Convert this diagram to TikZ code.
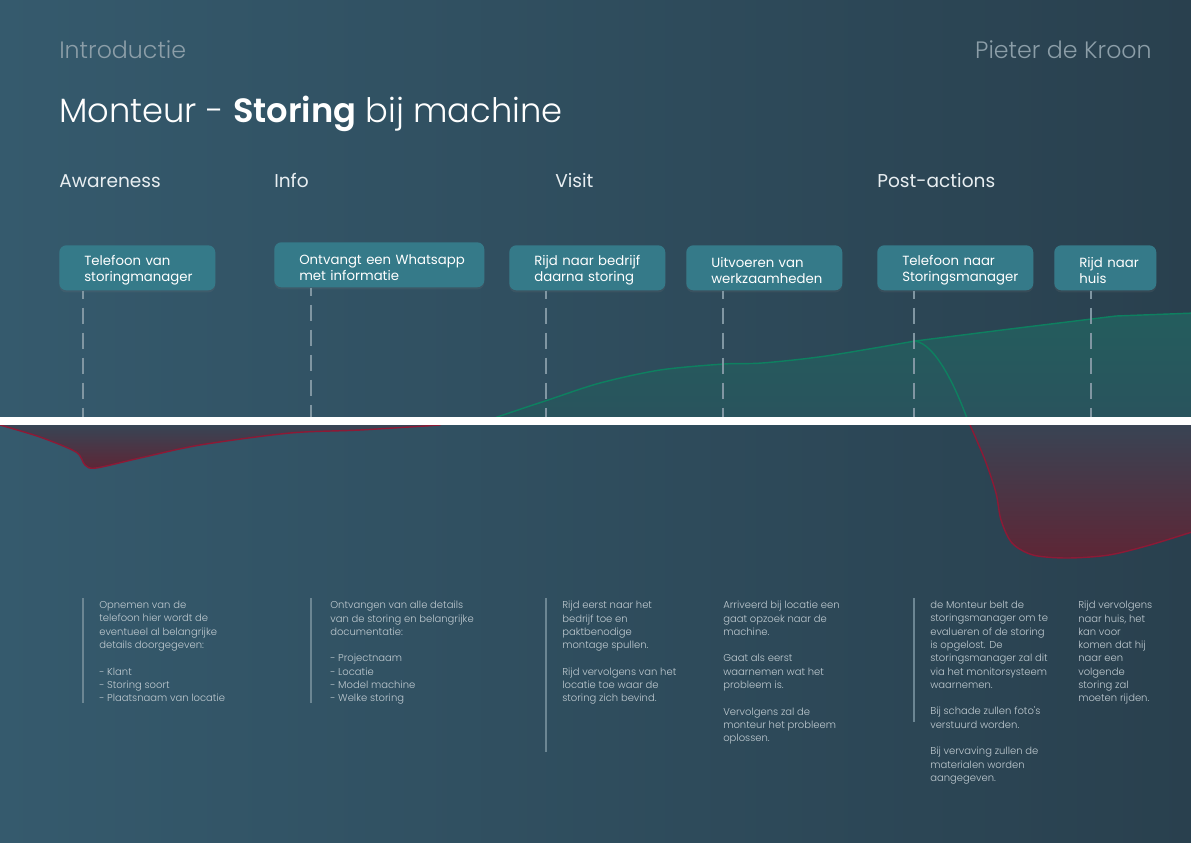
\documentclass[tikz,border=0pt]{standalone}
\usepackage{fontspec}
\setmainfont{Poppins}
\newfontfamily\lightfont{Poppins Light}[BoldFont=Poppins SemiBold]
\usetikzlibrary{positioning,shadows}

\definecolor{bgleft}{RGB}{53,90,109}
\definecolor{bgright}{RGB}{41,64,78}
\definecolor{bgmid}{RGB}{46,76,92}
\definecolor{boxteal}{RGB}{53,122,137}
\definecolor{headgrey}{RGB}{140,158,168}
\definecolor{phasewhite}{RGB}{232,238,241}
\definecolor{dashgrey}{RGB}{128,150,162}
\definecolor{notegrey}{RGB}{192,203,209}
\definecolor{notelinegrey}{RGB}{108,134,147}
\definecolor{goodgreen}{RGB}{14,128,96}
\definecolor{badred}{RGB}{140,26,54}
\definecolor{badfill}{RGB}{94,38,54}

\begin{document}
\begin{tikzpicture}[x=0.7pt, y=-0.7pt,
    stepbox/.style={fill=boxteal, rounded corners=5pt, text=white, anchor=north west,
        align=left, inner xsep=17.5pt, inner ysep=0pt, minimum height=31.5pt,
        font=\fontsize{9.3}{11.2}\selectfont, execute at begin node={\rule{0pt}{11pt}},
        drop shadow={opacity=0.15, shadow xshift=0pt, shadow yshift=-1.5pt}},
    phase/.style={anchor=base west, text=phasewhite, font=\fontsize{13}{15}\selectfont},
    note/.style={anchor=north west, inner sep=0pt, align=left, text=notegrey,
        font=\lightfont\fontsize{7}{9.3}\selectfont},
    dashline/.style={dashgrey, line width=1.3pt, dash pattern=on 11.2pt off 6.3pt, dash phase=5.6pt},
    noteline/.style={notelinegrey, line width=1.4pt}]

    % 背景
    \useasboundingbox (0,0) rectangle (1191,842);
    \shade[left color=bgleft, right color=bgright] (0,0) rectangle (1191,842);
    \coordinate (band) at (0,417);

    % 标题
    \node[anchor=base west, inner sep=0pt, text=headgrey, font=\lightfont\fontsize{16.6}{19}\selectfont]
        (intro) at (59,58) {Introductie};
    \node[anchor=base east, inner sep=0pt, text=headgrey, font=\lightfont\fontsize{16.6}{19}\selectfont]
        (author) at (1152,58) {Pieter de Kroon};
    \node[anchor=base west, inner sep=0pt, text=white, font=\lightfont\fontsize{23.6}{28}\selectfont]
        (title) at (59,122) {Monteur - \textbf{Storing} bij machine};

    % 阶段
    \node[phase, inner sep=0pt] (awareness) at (59,187) {Awareness};
    \node[phase, inner sep=0pt] (info) at (274,187) {Info};
    \node[phase, inner sep=0pt] (visit) at (555,187) {Visit};
    \node[phase, inner sep=0pt] (post) at (877,187) {Post-actions};

    % 曲线：正面
    \shadedraw[draw=goodgreen, line width=1pt, top color=goodgreen!32!bgmid, bottom color=goodgreen!14!bgmid]
        (490,421) -- plot[smooth] coordinates {(497,417) (548,400) (600,383) (660,370) (724,364)
        (762,363) (826,356) (915,341)} -- (1010,329) -- (1116,316) -- (1195,313) -- (1195,421) -- cycle;
    \draw[goodgreen, line width=1pt] (915,341) .. controls (935,344) and (955,385) .. (968,421);

    % 曲线：负面
    \shadedraw[draw=badred, line width=1pt, top color=badfill!12!bgmid, bottom color=badfill]
        (-5,421) -- plot[smooth] coordinates {(0,425) (40,437) (76,452) (85,465) (96,468)
        (140,458) (200,445) (290,433) (360,430) (440,425)} -- (445,421) -- cycle;
    \shadedraw[draw=badred, line width=1pt, top color=badfill!20!bgmid, bottom color=badfill]
        (968,421) -- plot[smooth] coordinates {(970,425) (985,460) (996,493) (1001,520) (1012,543)
        (1033,555) (1067,558) (1109,555) (1150,545) (1195,531)} -- (1195,421) -- cycle;

    % 分界线
    \fill[white] (0,417) rectangle (1191,425);

    % 步骤
    \node[stepbox, text width=74.2pt] (b1) at (59,245) {\mbox{Telefoon van}\\\mbox{storingmanager}};
    \node[stepbox, text width=112pt] (b2) at (274,242) {\mbox{Ontvangt een Whatsapp}\\\mbox{met informatie}};
    \node[stepbox, text width=74.2pt] (b3) at (509,245) {\mbox{Rijd naar bedrijf}\\\mbox{daarna storing}};
    \node[stepbox, text width=74.2pt] (b4) at (686,245) {\mbox{Uitvoeren van}\\\mbox{werkzaamheden}};
    \node[stepbox, text width=74.2pt] (b5) at (877,245) {\mbox{Telefoon naar}\\\mbox{Storingsmanager}};
    \node[stepbox, text width=36.4pt] (b6) at (1054,245) {\mbox{Rijd naar}\\\mbox{huis}};

    \foreach \b/\dx in {b1/16.8pt, b2/25.9pt, b3/25.9pt, b4/25.9pt, b5/25.9pt, b6/25.9pt}
        \draw[dashline] ([xshift=\dx]\b.south west) -- ([xshift=\dx]\b.south west |- band);

    % 说明
    \node[note] (n1) at (99,601) {Opnemen van de\\telefoon hier wordt de\\eventueel al belangrijke\\details doorgegeven:\\[9.3pt]
        - Klant\\- Storing soort\\- Plaatsnaam van locatie};
    \node[note] (n2) at (330,601) {Ontvangen van alle details\\van de storing en belangrijke\\documentatie:\\[9.3pt]
        - Projectnaam\\- Locatie\\- Model machine\\- Welke storing};
    \node[note] (n3) at (562,601) {Rijd eerst  naar het\\bedrijf toe en\\paktbenodige\\montage spullen.\\[9.3pt]
        Rijd vervolgens van het\\locatie toe waar de\\storing zich bevind.};
    \node[note] (n4) at (723,601) {Arriveerd bij locatie een\\gaat opzoek naar de\\machine.\\[9.3pt]
        Gaat als eerst\\waarnemen wat het\\probleem is.\\[9.3pt]
        Vervolgens zal de\\monteur het probleem\\oplossen.};
    \node[note] (n5) at (930,601) {de Monteur belt de\\storingsmanager om te\\evalueren of de storing\\is opgelost. De\\
        storingsmanager zal dit\\via het monitorsysteem\\waarnemen.\\[9.3pt]
        Bij schade zullen foto's\\verstuurd worden.\\[9.3pt]
        Bij vervaving zullen de\\materialen worden\\aangegeven.};
    \node[note] (n6) at (1078,601) {Rijd vervolgens\\naar huis, het\\kan voor\\komen dat hij\\naar een\\volgende\\storing zal\\moeten rijden.};

    \draw[noteline] ([xshift=-11.2pt, yshift=2.1pt]n1.north west) -- ++(0,105);
    \draw[noteline] ([xshift=-13.3pt, yshift=2.1pt]n2.north west) -- ++(0,105);
    \draw[noteline] ([xshift=-11.2pt, yshift=2.1pt]n3.north west) -- ++(0,154);
    \draw[noteline] ([xshift=-11.2pt, yshift=2.1pt]n5.north west) -- ++(0,124);
\end{tikzpicture}
\end{document}
